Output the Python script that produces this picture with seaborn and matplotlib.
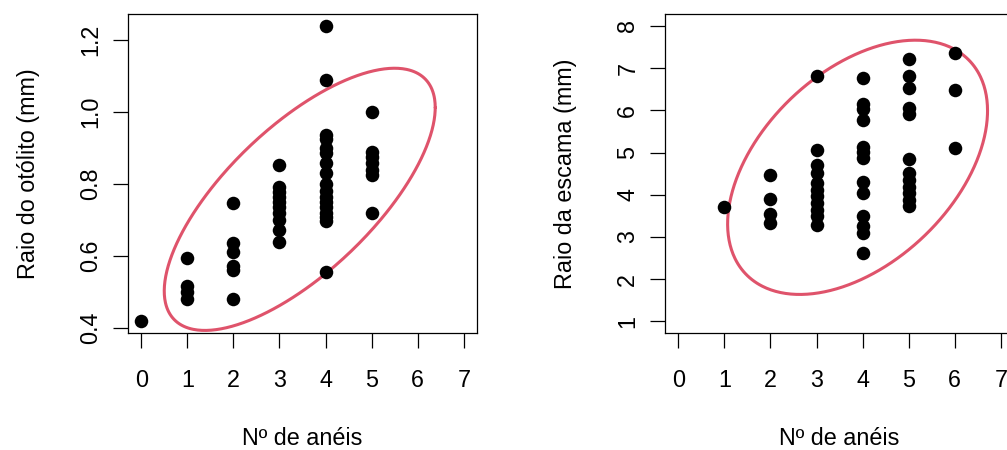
import numpy as np
import pandas as pd
import matplotlib
matplotlib.use("Agg")
import matplotlib.pyplot as plt
import seaborn as sns

# ---- data ----
oto_aneis = [0,
             1, 1, 1, 1,
             2, 2, 2, 2, 2, 2,
             3, 3, 3, 3, 3, 3, 3, 3, 3, 3,
             4, 4, 4, 4, 4, 4, 4, 4, 4, 4, 4, 4, 4, 4, 4, 4, 4,
             5, 5, 5, 5, 5, 5, 5]
oto_raio = [0.417,
            0.593, 0.515, 0.500, 0.480,
            0.746, 0.635, 0.609, 0.570, 0.560, 0.479,
            0.853, 0.792, 0.778, 0.764, 0.750, 0.736, 0.718, 0.700, 0.672, 0.639,
            1.240, 1.089, 0.936, 0.926, 0.900, 0.885, 0.857, 0.829, 0.800, 0.780,
            0.764, 0.750, 0.736, 0.720, 0.708, 0.697, 0.556,
            1.001, 0.890, 0.876, 0.857, 0.838, 0.824, 0.718]

esc_aneis = [1,
             2, 2, 2, 2,
             3, 3, 3, 3, 3, 3, 3, 3, 3, 3, 3,
             4, 4, 4, 4, 4, 4, 4, 4, 4, 4, 4, 4, 4,
             5, 5, 5, 5, 5, 5, 5, 5, 5, 5, 5, 5,
             6, 6, 6]
esc_raio = [3.72,
            4.47, 3.90, 3.55, 3.33,
            6.82, 5.06, 4.70, 4.51, 4.27, 4.12, 3.96, 3.80, 3.64, 3.49, 3.29,
            6.76, 6.16, 6.04, 5.76, 5.13, 5.02, 4.86, 4.31, 4.04, 3.49, 3.25, 3.10, 2.62,
            7.22, 6.82, 6.52, 6.05, 5.92, 4.85, 4.51, 4.35, 4.19, 4.04, 3.88, 3.74,
            7.35, 6.49, 5.11]

# ellipse parameters (center x, center y, half-width, half-height, correlation)
oto_ellipse = (3.44, 0.757, 2.94, 0.365, 0.70)
esc_ellipse = (3.89, 4.65, 2.82, 3.01, 0.445)

x_ticks = [0, 1, 2, 3, 4, 5, 6, 7]
oto_yticks = [0.4, 0.6, 0.8, 1.0, 1.2]
oto_yticklabels = ["0.4", "0.6", "0.8", "1.0", "1.2"]
esc_yticks = [1, 2, 3, 4, 5, 6, 7, 8]

x_label = "Nº de anéis"
oto_ylabel = "Raio do otólito (mm)"
esc_ylabel = "Raio da escama (mm)"

# ---- style ----
sns.set_theme(style="white")
plt.rcParams['font.family'] = ['Liberation Sans', 'DejaVu Sans']
plt.rcParams['font.size'] = 16.8
plt.rcParams['text.color'] = 'black'
plt.rcParams['axes.labelcolor'] = 'black'
plt.rcParams['xtick.color'] = 'black'
plt.rcParams['ytick.color'] = 'black'

ELL_COLOR = "#DF536B"
FS = 16.8

fig = plt.figure(figsize=(10.07, 4.5), dpi=100)
ax1 = fig.add_axes([128.3 / 1007, 1 - 333.3 / 450, 348.4 / 1007, 319.3 / 450])
ax2 = fig.add_axes([665.4 / 1007, 1 - 333.3 / 450, 348.4 / 1007, 319.3 / 450])


def ellipse_df(params):
    cx, cy, sx, sy, r = params
    t = np.linspace(0, 2 * np.pi, 400)
    th = np.arccos(r)
    return pd.DataFrame({"x": cx + sx * np.cos(t), "y": cy + sy * np.cos(t - th),
                         "o": np.arange(len(t))})


def draw(ax, xs, ys, ell, yticks, yticklabels, ylabel, ylim):
    df = pd.DataFrame({"x": xs, "y": ys})
    sns.scatterplot(data=df, x="x", y="y", ax=ax, color="black", s=95,
                    edgecolor="black", linewidth=0, zorder=3)
    edf = ellipse_df(ell)
    sns.lineplot(data=edf, x="x", y="y", ax=ax, sort=False, estimator=None,
                 color=ELL_COLOR, linewidth=2.2, zorder=2)
    ax.set_xlim(-0.28, 7.28)
    ax.set_ylim(*ylim)
    ax.set_xticks(x_ticks)
    ax.set_xticklabels([str(v) for v in x_ticks], fontsize=FS, color="black")
    ax.set_yticks(yticks)
    ax.set_yticklabels(yticklabels, fontsize=FS, rotation=90, va="center",
                       color="black")
    ax.tick_params(axis="both", direction="out", length=10.8, width=0.9,
                   color="black", bottom=True, left=True)
    ax.tick_params(axis="x", pad=15)
    ax.tick_params(axis="y", pad=8)
    for sp in ax.spines.values():
        sp.set_visible(True)
        sp.set_color("black")
        sp.set_linewidth(0.9)
    ax.set_xlabel(x_label, fontsize=FS, labelpad=25, color="black")
    ax.set_ylabel(ylabel, fontsize=FS, labelpad=28, color="black")
    ax.grid(False)


draw(ax1, oto_aneis, oto_raio, oto_ellipse, oto_yticks, oto_yticklabels,
     oto_ylabel, (0.384, 1.273))
draw(ax2, esc_aneis, esc_raio, esc_ellipse, esc_yticks,
     [str(v) for v in esc_yticks], esc_ylabel, (0.72, 8.28))

fig.savefig("out.png", dpi=100)
